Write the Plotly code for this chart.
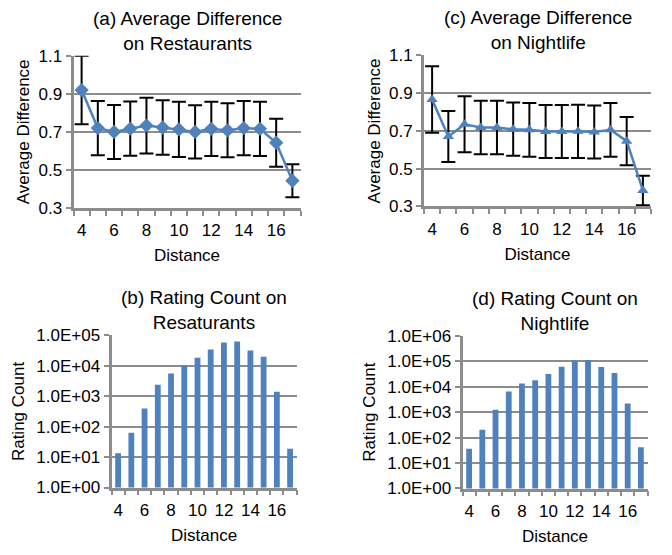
import plotly.graph_objects as go

# ---------------- data ----------------
distance = [4, 5, 6, 7, 8, 9, 10, 11, 12, 13, 14, 15, 16, 17]

rest_avg_diff = [0.92, 0.72, 0.70, 0.717, 0.733, 0.723, 0.713, 0.70, 0.716, 0.708, 0.72, 0.716, 0.643, 0.443]
rest_err = [0.18, 0.143, 0.142, 0.143, 0.147, 0.143, 0.145, 0.14, 0.143, 0.142, 0.143, 0.143, 0.126, 0.087]

night_avg_diff = [0.866, 0.67, 0.735, 0.718, 0.718, 0.709, 0.706, 0.697, 0.697, 0.698, 0.694, 0.706, 0.646, 0.385]
night_err = [0.176, 0.135, 0.148, 0.142, 0.142, 0.141, 0.142, 0.14, 0.14, 0.141, 0.14, 0.142, 0.128, 0.078]

rest_count = [13.5, 63, 400, 2400, 5600, 10300, 18500, 34500, 59000, 63000, 32000, 20000, 1400, 19]
night_count = [36, 205, 1250, 6500, 13300, 17800, 31600, 61000, 106000, 112000, 59600, 34600, 2170, 42]

x_tick_vals = [4, 6, 8, 10, 12, 14, 16]
diff_ticks = [0.3, 0.5, 0.7, 0.9, 1.1]
diff_tick_text = ["0.3", "0.5", "0.7", "0.9", "1.1"]
rest_log_vals = [1, 10, 100, 1000, 10000, 100000]
rest_log_text = ["1.0E+00", "1.0E+01", "1.0E+02", "1.0E+03", "1.0E+04", "1.0E+05"]
night_log_vals = [1, 10, 100, 1000, 10000, 100000, 1000000]
night_log_text = ["1.0E+00", "1.0E+01", "1.0E+02", "1.0E+03", "1.0E+04", "1.0E+05", "1.0E+06"]

titles = ["(a) Average Difference<br>on Restaurants",
          "(c) Average Difference<br>on Nightlife",
          "(b) Rating Count on<br>Resaturants",
          "(d) Rating Count on<br>Nightlife"]

# ---------------- style ----------------
W, H = 672, 555
BLUE = "#4F81BD"
GRID = "#8c8c8c"
FONT = "Liberation Sans, Arial, sans-serif"
TICK_SIZE = 17
AXT_SIZE = 17
TITLE_SIZE = 19

def px_x(a, b):
    return [a / W, b / W]

def px_y(top, bottom):
    return [1 - bottom / H, 1 - top / H]

dom = {
    "a": (px_x(73.5, 300.5), px_y(48.5, 206)),
    "c": (px_x(424, 651), px_y(48, 204.5)),
    "b": (px_x(111.5, 296.7), px_y(338, 495.5)),
    "d": (px_x(462.5, 647.5), px_y(338.3, 496.5)),
}

fig = go.Figure()

fig.add_trace(go.Scatter(
    x=distance, y=rest_avg_diff, mode="lines+markers",
    line=dict(color=BLUE, width=2.5),
    marker=dict(symbol="diamond", size=11, color=BLUE),
    error_y=dict(type="data", array=rest_err, color="black", thickness=2, width=7),
    xaxis="x", yaxis="y", showlegend=False))

fig.add_trace(go.Scatter(
    x=distance, y=night_avg_diff, mode="lines+markers",
    line=dict(color=BLUE, width=2.5),
    marker=dict(symbol="triangle-up", size=10, color=BLUE),
    error_y=dict(type="data", array=night_err, color="black", thickness=2, width=7),
    xaxis="x2", yaxis="y2", showlegend=False))

fig.add_trace(go.Bar(
    x=distance, y=rest_count, marker=dict(color=BLUE, line=dict(width=0)),
    width=0.44, xaxis="x3", yaxis="y3", showlegend=False))

fig.add_trace(go.Bar(
    x=distance, y=night_count, marker=dict(color=BLUE, line=dict(width=0)),
    width=0.44, xaxis="x4", yaxis="y4", showlegend=False))


def xaxis_cfg(domain, anchor):
    return dict(
        domain=domain, anchor=anchor, range=[3.5, 17.5],
        tickmode="array", tickvals=x_tick_vals, ticks="outside", ticklen=5,
        tickcolor="rgba(0,0,0,0)",
        showgrid=False, zeroline=False,
        showline=True, linecolor=GRID, linewidth=2.5,
        tickfont=dict(size=TICK_SIZE, family=FONT, color="black"),
        title=dict(text="Distance", font=dict(size=AXT_SIZE, family=FONT, color="black"), standoff=11),
        minor=dict(tickmode="linear", tick0=3.5, dtick=1, ticks="outside",
                   ticklen=5, tickwidth=2, tickcolor=GRID, showgrid=False),
    )


def yaxis_lin(domain, anchor):
    return dict(
        domain=domain, anchor=anchor, range=[0.3, 1.1],
        tickmode="array", tickvals=diff_ticks, ticktext=diff_tick_text,
        ticks="outside", ticklen=5, tickwidth=2, tickcolor=GRID,
        showgrid=True, gridcolor=GRID, gridwidth=2, zeroline=False,
        showline=True, linecolor=GRID, linewidth=3,
        tickfont=dict(size=TICK_SIZE, family=FONT, color="black"),
        title=dict(text="Average Difference", font=dict(size=AXT_SIZE, family=FONT, color="black"), standoff=5),
    )


def yaxis_log(domain, anchor, vals, text, top):
    return dict(
        domain=domain, anchor=anchor, type="log", range=[0, top],
        tickmode="array", tickvals=vals, ticktext=text,
        ticks="outside", ticklen=5, tickwidth=2, tickcolor=GRID,
        showgrid=True, gridcolor=GRID, gridwidth=2, zeroline=False,
        showline=True, linecolor=GRID, linewidth=3,
        tickfont=dict(size=TICK_SIZE, family=FONT, color="black"),
        title=dict(text="Rating Count", font=dict(size=AXT_SIZE, family=FONT, color="black"), standoff=8),
    )


fig.update_layout(
    width=W, height=H,
    margin=dict(l=0, r=0, t=0, b=0),
    paper_bgcolor="white", plot_bgcolor="white",
    font=dict(family=FONT, color="black"),
    xaxis=xaxis_cfg(dom["a"][0], "y"),
    yaxis=yaxis_lin(dom["a"][1], "x"),
    xaxis2=xaxis_cfg(dom["c"][0], "y2"),
    yaxis2=yaxis_lin(dom["c"][1], "x2"),
    xaxis3=xaxis_cfg(dom["b"][0], "y3"),
    yaxis3=yaxis_log(dom["b"][1], "x3", rest_log_vals, rest_log_text, 5),
    xaxis4=xaxis_cfg(dom["d"][0], "y4"),
    yaxis4=yaxis_log(dom["d"][1], "x4", night_log_vals, night_log_text, 6),
)

for key, title in zip(["a", "c", "b", "d"], titles):
    xd, yd = dom[key]
    fig.add_annotation(
        text=title, xref="paper", yref="paper",
        x=(xd[0] + xd[1]) / 2, y=yd[1], xanchor="center", yanchor="bottom",
        showarrow=False, font=dict(size=TITLE_SIZE, family=FONT, color="black"),
        yshift=0,
    )

fig.write_html("out.html")
